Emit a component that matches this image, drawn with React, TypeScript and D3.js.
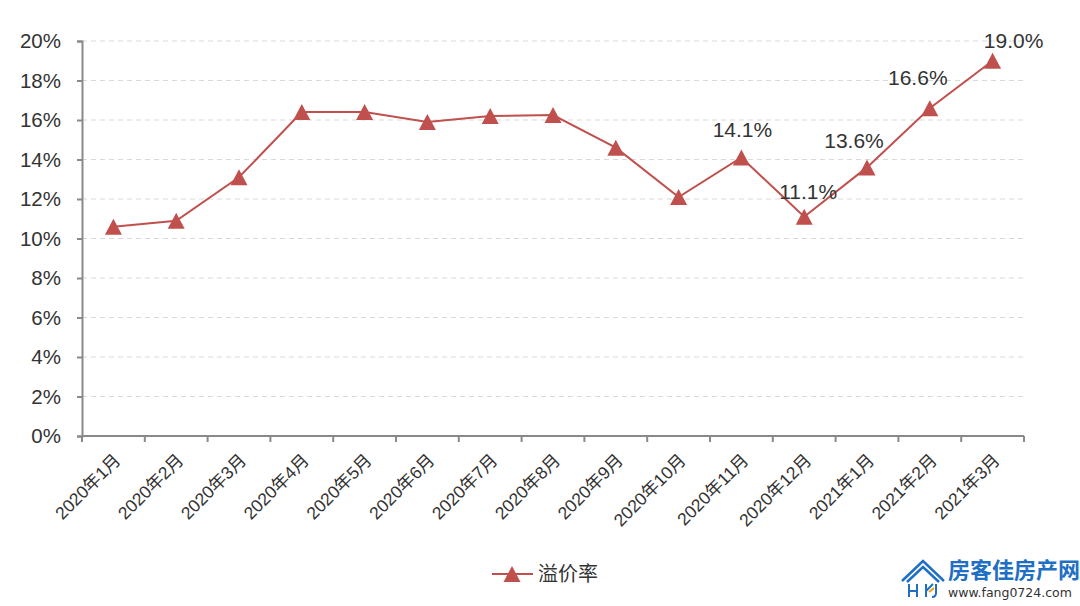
import { useEffect, useRef } from 'react';
import * as d3 from 'd3';

// 月份
const months = [
  '2020年1月', '2020年2月', '2020年3月', '2020年4月', '2020年5月',
  '2020年6月', '2020年7月', '2020年8月', '2020年9月', '2020年10月',
  '2020年11月', '2020年12月', '2021年1月', '2021年2月', '2021年3月'
];
// 溢价率 (%)
const premiumRate = [10.6, 10.9, 13.1, 16.4, 16.4, 15.9, 16.2, 16.25, 14.6, 12.1, 14.1, 11.1, 13.6, 16.6, 19.0];
// 显示数值标签的月份
const labelled = ['2020年11月', '2020年12月', '2021年1月', '2021年2月', '2021年3月'];
const yTicks = [0, 2, 4, 6, 8, 10, 12, 14, 16, 18, 20];
const seriesName = '溢价率';

const W = 1080;
const H = 606;
const FONT = '"Liberation Sans", "Noto Sans CJK SC", sans-serif';
const CJK = '"Noto Sans CJK SC", sans-serif';
const RED = '#C0504D';
const TRI = 'M0,-8L8.5,8L-8.5,8Z';

export default function App() {
  const svgRef = useRef<SVGSVGElement>(null);

  useEffect(() => {
    const svg = d3.select(svgRef.current);
    svg.selectAll('*').remove();

    const x = d3.scaleBand<string>().domain(months).range([82, 1024]);
    const y = d3.scaleLinear().domain([0, 20]).range([436, 41]);
    const cx = (m: string) => (x(m) ?? 0) + x.bandwidth() / 2;

    // 网格线
    svg.append('g')
      .selectAll('line')
      .data(yTicks.filter(t => t > 0))
      .join('line')
      .attr('x1', 82).attr('x2', 1024)
      .attr('y1', d => y(d)).attr('y2', d => y(d))
      .attr('stroke', '#d9d9d9')
      .attr('stroke-width', 1)
      .attr('stroke-dasharray', '5,4');

    // Y 轴
    const yAxis = svg.append('g')
      .attr('transform', 'translate(82,0)')
      .call(d3.axisLeft(y).tickValues(yTicks).tickSize(5).tickPadding(16).tickFormat(d => `${d}%`));
    yAxis.select('.domain').attr('stroke', '#898989').attr('stroke-width', 2);
    yAxis.selectAll('.tick line').attr('stroke', '#898989').attr('stroke-width', 2);
    yAxis.selectAll('.tick text')
      .attr('font-family', FONT).attr('font-size', 20.5).attr('fill', '#333');

    // X 轴
    const xAxis = svg.append('g').attr('transform', 'translate(0,436)');
    xAxis.append('line').attr('x1', 82).attr('x2', 1024)
      .attr('stroke', '#898989').attr('stroke-width', 2);
    const bounds = months.map(m => x(m) ?? 0).concat([1024]);
    xAxis.append('g')
      .selectAll('line')
      .data(bounds)
      .join('line')
      .attr('x1', d => d).attr('x2', d => d)
      .attr('y1', 0).attr('y2', 6)
      .attr('stroke', '#898989').attr('stroke-width', 2);
    xAxis.append('g')
      .selectAll('text')
      .data(months)
      .join('text')
      .attr('transform', d => `translate(${cx(d) + 4},${21}) rotate(-45)`)
      .attr('text-anchor', 'end')
      .attr('dy', '0.35em')
      .attr('font-family', FONT).attr('font-size', 17.5).attr('fill', '#333')
      .text(d => d);

    // 折线
    const pts = months.map((m, i) => ({ m, v: premiumRate[i] }));
    const line = d3.line<{ m: string; v: number }>().x(d => cx(d.m)).y(d => y(d.v));
    svg.append('path')
      .datum(pts)
      .attr('d', line)
      .attr('fill', 'none')
      .attr('stroke', RED)
      .attr('stroke-width', 2);

    svg.append('g')
      .selectAll('path')
      .data(pts)
      .join('path')
      .attr('d', TRI)
      .attr('transform', d => `translate(${cx(d.m)},${y(d.v)})`)
      .attr('fill', RED);

    // 数值标签
    const shift: Record<string, [number, number]> = {
      '2020年11月': [1, -21],
      '2020年12月': [4, -18],
      '2021年1月': [-13, -19],
      '2021年2月': [-12, -23],
      '2021年3月': [21, -13]
    };
    svg.append('g')
      .selectAll('text')
      .data(pts.filter(d => labelled.includes(d.m)))
      .join('text')
      .attr('x', d => cx(d.m) + shift[d.m][0])
      .attr('y', d => y(d.v) + shift[d.m][1])
      .attr('text-anchor', 'middle')
      .attr('font-family', FONT).attr('font-size', 21).attr('fill', '#333')
      .text(d => `${d.v.toFixed(1)}%`);

    // 图例
    const lg = svg.append('g').attr('transform', 'translate(492,574)');
    lg.append('line').attr('x1', 0).attr('x2', 41).attr('stroke', RED).attr('stroke-width', 2);
    lg.append('path').attr('d', TRI).attr('transform', 'translate(20,0)').attr('fill', RED);
    lg.append('text')
      .attr('x', 46).attr('dy', '0.36em')
      .attr('font-family', CJK).attr('font-size', 20).attr('fill', '#333')
      .text(seriesName);

    // 水印
    const wm = svg.append('g');
    const blue = '#1f6fc5';
    wm.append('path')
      .attr('d', 'M902,581 L923,561 L944,581 M907,582 L923,567 L939,582')
      .attr('fill', 'none').attr('stroke', blue).attr('stroke-width', 2.5).attr('stroke-linejoin', 'miter');
    wm.append('path')
      .attr('d', 'M909,584 V597 M909,591 H917 M917,584 V597 M926,584 V597 M926,591 L933,584 M936,584 V593 Q936,597 932,597')
      .attr('fill', 'none').attr('stroke', blue).attr('stroke-width', 2);
    wm.append('path').attr('d', 'M929,592 L934,588').attr('stroke', '#f39c12').attr('stroke-width', 2);
    wm.append('text')
      .attr('x', 948).attr('y', 578)
      .attr('font-family', CJK).attr('font-size', 22).attr('font-weight', 700).attr('fill', blue)
      .text('房客佳房产网');
    wm.append('text')
      .attr('x', 948).attr('y', 597)
      .attr('font-family', '"DejaVu Sans", sans-serif').attr('font-size', 12.5).attr('fill', '#333')
      .text('www.fang0724.com');
  }, []);

  return (
    <svg
      ref={svgRef}
      width={W}
      height={H}
      style={{ position: 'absolute', left: 0, top: 0, background: '#fff', display: 'block' }}
    />
  );
}
